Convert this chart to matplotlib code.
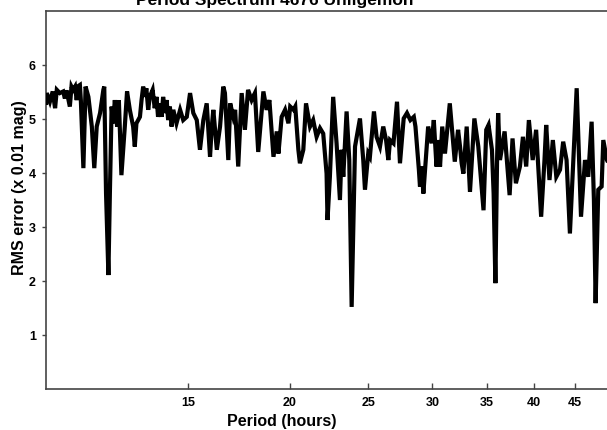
import matplotlib
matplotlib.use("Agg")
import matplotlib.pyplot as plt
from matplotlib.ticker import FixedLocator, FixedFormatter, NullLocator

# ---- data ----
period_hours = [
    10.01, 10.03, 10.12, 10.20, 10.27, 10.32, 10.41, 10.51, 10.56, 10.61,
    10.71, 10.76, 10.81, 10.87, 10.92, 10.97, 11.02, 11.05, 11.13, 11.20,
    11.29, 11.40, 11.48, 11.56, 11.67, 11.78, 11.81, 11.87, 11.95, 12.00,
    12.06, 12.11, 12.17, 12.25, 12.31, 12.40, 12.52, 12.60, 12.70, 12.82,
    12.88, 12.94, 13.07, 13.13, 13.19, 13.25, 13.31, 13.38, 13.44, 13.55,
    13.63, 13.70, 13.76, 13.84, 13.90, 13.96, 14.03, 14.10, 14.16, 14.23,
    14.30, 14.37, 14.50, 14.65, 14.78, 14.93, 15.07, 15.21, 15.36, 15.50,
    15.65, 15.80, 15.95, 16.03, 16.10, 16.26, 16.41, 16.56, 16.64, 16.72,
    16.80, 16.89, 17.04, 17.13, 17.28, 17.45, 17.61, 17.77, 17.95, 18.12,
    18.29, 18.56, 18.73, 18.88, 19.10, 19.28, 19.37, 19.55, 19.74, 19.93,
    20.03, 20.22, 20.32, 20.50, 20.59, 20.79, 20.95, 21.19, 21.38, 21.59,
    21.80, 22.00, 22.21, 22.27, 22.42, 22.63, 22.85, 23.07, 23.18, 23.29,
    23.51, 23.69, 23.85, 24.08, 24.42, 24.65, 24.77, 25.00, 25.12, 25.41,
    25.60, 25.85, 26.09, 26.30, 26.47, 26.60, 26.86, 27.13, 27.36, 27.65,
    27.91, 28.18, 28.46, 28.59, 28.87, 28.96, 29.10, 29.24, 29.50, 29.64,
    29.93, 30.12, 30.35, 30.49, 30.66, 30.85, 31.09, 31.52, 31.97, 32.27,
    32.45, 32.60, 32.76, 33.07, 33.38, 33.80, 34.18, 34.69, 34.96, 35.19,
    35.53, 35.70, 35.88, 36.05, 36.16, 36.35, 36.83, 37.01, 37.36, 37.67,
    38.03, 38.47, 38.80, 39.16, 39.46, 39.89, 40.28, 40.86, 41.25, 41.45,
    41.84, 42.24, 42.66, 43.11, 43.50, 43.92, 44.34, 44.77, 45.20, 45.76,
    46.28, 46.71, 47.16, 47.47, 47.70, 48.06, 48.52, 48.75, 49.26, 49.60,
]
rms_error = [
    5.26, 5.48, 5.32, 5.51, 5.20, 5.54, 5.48, 5.51, 5.38, 5.53,
    5.23, 5.60, 5.54, 5.60, 5.35, 5.61, 5.63, 5.35, 4.09, 5.60,
    5.41, 4.86, 4.09, 4.86, 5.11, 5.54, 5.60, 3.62, 2.11, 3.62,
    5.23, 4.92, 5.35, 4.86, 5.35, 3.96, 4.86, 5.51, 5.17, 4.86,
    4.49, 4.92, 5.04, 5.35, 5.60, 5.41, 5.57, 5.17, 5.41, 5.54,
    5.20, 5.41, 5.04, 5.29, 5.04, 5.41, 5.11, 5.35, 4.98, 5.23,
    4.86, 5.17, 4.92, 5.17, 4.98, 5.04, 5.48, 5.11, 4.98, 4.43,
    4.98, 5.29, 4.30, 4.86, 5.17, 4.43, 4.86, 5.60, 5.48, 4.86,
    4.24, 5.29, 5.04, 5.17, 4.12, 5.48, 4.80, 5.54, 5.35, 5.48,
    4.39, 5.51, 5.17, 5.35, 4.30, 4.77, 4.36, 5.04, 5.17, 4.92,
    5.23, 5.17, 5.23, 4.43, 4.18, 4.43, 5.29, 4.86, 4.98, 4.67,
    4.83, 4.73, 3.99, 3.13, 3.93, 5.41, 4.55, 3.50, 4.43, 3.93,
    5.14, 4.24, 1.52, 4.49, 5.01, 4.24, 3.69, 4.36, 4.30, 5.14,
    4.67, 4.49, 4.86, 4.61, 4.24, 4.61, 4.55, 5.32, 4.18, 5.01,
    5.11, 4.98, 5.04, 4.86, 4.06, 3.75, 4.12, 3.62, 4.43, 4.86,
    4.55, 4.98, 4.12, 4.61, 4.12, 4.86, 4.36, 5.29, 4.21, 4.80,
    4.49, 4.18, 3.99, 4.86, 3.65, 5.01, 4.49, 3.31, 4.80, 4.89,
    4.43, 3.62, 1.96, 4.24, 5.11, 4.24, 4.77, 4.36, 3.59, 4.64,
    3.81, 4.12, 4.67, 4.12, 4.98, 4.24, 4.80, 3.19, 4.24, 4.89,
    3.87, 4.61, 3.93, 4.06, 4.58, 4.24, 2.88, 4.24, 5.57, 3.19,
    4.24, 3.93, 4.95, 3.50, 1.59, 3.69, 3.75, 4.61, 4.24, 4.15,
]
x_ticks = [15, 20, 25, 30, 35, 40, 45]
x_tick_labels = ["15", "20", "25", "30", "35", "40", "45"]
y_ticks = [1, 2, 3, 4, 5, 6]
y_tick_labels = ["1", "2", "3", "4", "5", "6"]
title_text = "Period Spectrum 4676 Uhligemon"
x_label = "Period (hours)"
y_label = "RMS error (x 0.01 mag)"

plt.rcParams["font.family"] = ["Liberation Sans", "DejaVu Sans"]
plt.rcParams["font.weight"] = "bold"

W, H = 607, 430
fig = plt.figure(figsize=(W / 100, H / 100), dpi=100)
ax = fig.add_axes([45.7 / W, 41 / H, 566.5 / W, 378 / H])

ax.plot(period_hours, rms_error, color="black", lw=3.0,
        solid_joinstyle="miter", solid_capstyle="butt", zorder=3)

ax.set_xscale("log")
ax.set_xlim(10, 50)
ax.set_ylim(0, 7)
ax.xaxis.set_major_locator(FixedLocator(x_ticks))
ax.xaxis.set_major_formatter(FixedFormatter(x_tick_labels))
ax.xaxis.set_minor_locator(NullLocator())
ax.set_yticks(y_ticks)
ax.set_yticklabels(y_tick_labels)

for s in ax.spines.values():
    s.set_color("#444444")
    s.set_linewidth(1.2)

ax.tick_params(axis="x", direction="in", length=4, width=1, color="#444444",
               labelsize=9, pad=6)
ax.tick_params(axis="y", direction="out", length=3, width=1, color="#444444",
               labelsize=9, pad=4)
for lab in ax.get_xticklabels() + ax.get_yticklabels():
    lab.set_fontweight("bold")

fig.text(275 / W, 1 - 5 / H, title_text, ha="center", va="baseline",
         fontsize=12.5, fontweight="bold")
fig.text(281.5 / W, 1 - 426 / H, x_label, ha="center", va="baseline",
         fontsize=11.5, fontweight="bold")
fig.text(20 / W, 1 - 188 / H, y_label, ha="center", va="center",
         rotation=90, fontsize=11.5, fontweight="bold")

fig.savefig("out.png", dpi=100)
